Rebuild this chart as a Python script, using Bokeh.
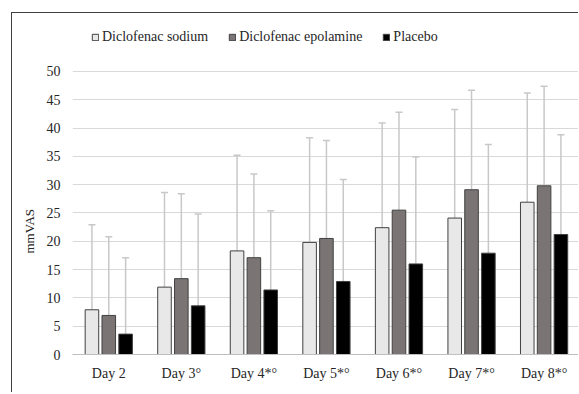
from bokeh.plotting import figure
from bokeh.models import (ColumnDataSource, Range1d, Legend, LegendItem,
                          Whisker, TeeHead, FixedTicker, Title)
from bokeh.transform import dodge
from bokeh.embed import file_html
from bokeh.resources import INLINE

days = ["Day 2", "Day 3°", "Day 4*°", "Day 5*°", "Day 6*°", "Day 7*°", "Day 8*°"]
sodium_mean = [7.9, 11.9, 18.3, 19.8, 22.4, 24.1, 26.9]
sodium_top = [22.9, 28.6, 35.2, 38.3, 40.9, 43.3, 46.2]
epol_mean = [6.9, 13.4, 17.1, 20.5, 25.5, 29.1, 29.8]
epol_top = [20.8, 28.4, 31.9, 37.8, 42.8, 46.7, 47.4]
placebo_mean = [3.6, 8.6, 11.4, 12.9, 16.0, 17.9, 21.2]
placebo_top = [17.1, 24.8, 25.4, 30.9, 34.9, 37.1, 38.8]
series_names = ["Diclofenac sodium", "Diclofenac epolamine", "Placebo"]
y_ticks = [0, 5, 10, 15, 20, 25, 30, 35, 40, 45, 50]
y_title = "mmVAS"

FONT = "Liberation Serif"
idx = list(range(len(days)))

src = ColumnDataSource(dict(x=idx,
                            s=sodium_mean, st=sodium_top,
                            e=epol_mean, et=epol_top,
                            p=placebo_mean, pt=placebo_top))

# frame extends above 50 to leave room for the legend (no ticks/grid there)
p = figure(x_range=Range1d(-0.5, 6.488), y_range=Range1d(0, 59.0),
           width=567, height=380, output_backend="svg", toolbar_location=None,
           min_border_left=60, min_border_right=0, min_border_bottom=39, min_border_top=7,
           styles={"margin-left": "11px", "margin-top": "12px",
                   "border-left": "1px solid #404040", "border-top": "1px solid #404040"})
p.outline_line_color = None

off = 0.232
w = 0.187
fills = ["#e8e8e8", "#7a7574", "#000000"]
cols = [("s", "st"), ("e", "et"), ("p", "pt")]
offsets = [-off, 0.0, off]
renderers = []
for (m, t), o, c in zip(cols, offsets, fills):
    r = p.vbar(x=dodge("x", o), top=m, width=w, source=src,
               fill_color=c, line_color="#404040", line_width=1)
    renderers.append(r)
    wh = Whisker(base=dodge("x", o), lower=m, upper=t, source=src,
                 line_color="#c8c8c8", line_width=1.5,
                 upper_head=TeeHead(size=7, line_color="#c8c8c8", line_width=1.5),
                 lower_head=None, level="underlay")
    p.add_layout(wh)

p.xgrid.grid_line_color = None
p.ygrid.grid_line_color = "#d9d9d9"
p.ygrid.grid_line_width = 1
p.yaxis.ticker = FixedTicker(ticks=y_ticks)
p.yaxis.axis_line_color = None
p.yaxis.major_tick_line_color = None
p.yaxis.minor_tick_line_color = None
p.yaxis.major_tick_out = 0
p.yaxis.major_tick_in = 0
p.yaxis.major_label_text_font = FONT
p.yaxis.major_label_text_font_size = "14px"
p.yaxis.major_label_text_color = "#262626"
p.yaxis.major_label_standoff = 12

# y-axis title placed as a side title so it can sit where the reference has it
yt = Title(text=y_title, align="left", offset=101, text_font=FONT,
           text_font_size="13px", text_font_style="normal", text_color="#262626",
           standoff=13)
p.add_layout(yt, "left")

p.xaxis.ticker = FixedTicker(ticks=idx)
p.xaxis.major_label_overrides = {i: d for i, d in zip(idx, days)}
p.xaxis.axis_line_color = "#bfbfbf"
p.xaxis.axis_line_width = 1
p.xaxis.major_tick_line_color = None
p.xaxis.minor_tick_line_color = None
p.xaxis.major_tick_out = 0
p.xaxis.major_tick_in = 0
p.xaxis.major_label_text_font = FONT
p.xaxis.major_label_text_font_size = "14px"
p.xaxis.major_label_text_color = "#262626"
p.xaxis.major_label_standoff = 11

legend = Legend(items=[LegendItem(label=n, renderers=[r]) for n, r in zip(series_names, renderers)],
                orientation="horizontal", location=(19, 309),
                label_text_font=FONT, label_text_font_size="14px", label_text_color="#262626",
                glyph_width=8, glyph_height=8, label_standoff=3, spacing=20,
                margin=0, padding=0, border_line_color=None, background_fill_alpha=0)
p.add_layout(legend)

open("out.html", "w").write(file_html(p, INLINE))
